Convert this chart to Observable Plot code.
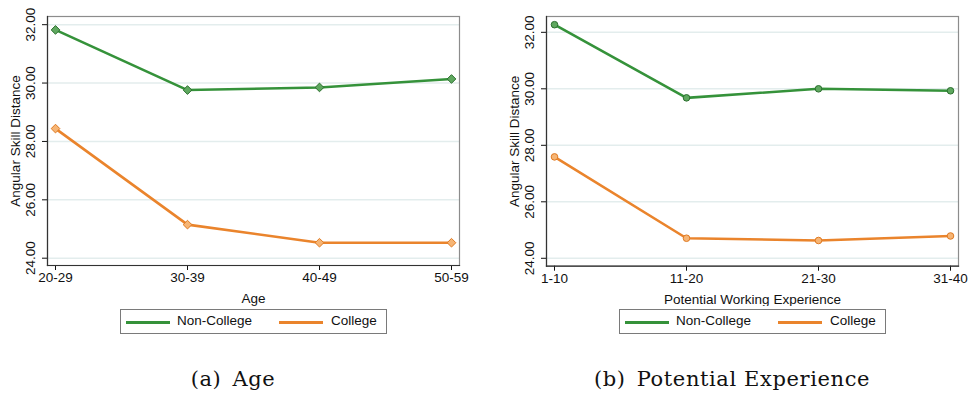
<!DOCTYPE html>
<html>
<head>
<meta charset="utf-8">
<script src="https://cdn.jsdelivr.net/npm/d3@7"></script>
<script src="https://cdn.jsdelivr.net/npm/@observablehq/plot@0.6"></script>
<style>
  html, body { margin: 0; padding: 0; background: #fff; }
  #root { position: relative; width: 968px; height: 398px; overflow: hidden; font-family: "Liberation Sans", Arial, sans-serif; }
  .panel { position: absolute; top: 0; width: 484px; height: 306px; }
  .legend { position: absolute; top: 309px; height: 23px; border: 1px solid #7a7a7a; box-sizing: content-box; font-size: 13.5px; color: #111; background: #fff; }
  .legend .sw { position: absolute; top: 11px; height: 3px; width: 44px; }
  .legend .lb { position: absolute; top: 3px; white-space: nowrap; }
  .caption { position: absolute; top: 367px; font-family: "DejaVu Serif", "Liberation Serif", serif; font-size: 21px; letter-spacing: 0.6px; color: #111; white-space: nowrap; transform: translateX(-50%); }
</style>
</head>
<body>
<div id="root"></div>
<script>
// Angular skill distance by age group and by potential working experience
const series = ["Non-College", "College"];
const seriesColors = ["#35923a", "#ea842c"];
const seriesFills = ["#5fa85f", "#f6b575"];
const seriesStrokes = ["#2b6f2e", "#e07a22"];

const ageCats = ["20-29", "30-39", "40-49", "50-59"];
const ageNonCollege = [31.82, 29.76, 29.85, 30.14];
const ageCollege = [28.44, 25.15, 24.53, 24.53];

const expCats = ["1-10", "11-20", "21-30", "31-40"];
const expNonCollege = [32.27, 29.68, 30.00, 29.93];
const expCollege = [27.59, 24.71, 24.63, 24.79];

const yTicks = [24, 26, 28, 30, 32];
const yTitle = "Angular Skill Distance";
const captions = ["(a)\u2002Age", "(b)\u2002Potential Experience"];

const root = document.getElementById("root");

function toRows(cats, nonCollege, college) {
  const rows = [];
  cats.forEach((c, i) => rows.push({cat: c, s: series[0], v: nonCollege[i]}));
  cats.forEach((c, i) => rows.push({cat: c, s: series[1], v: college[i]}));
  return rows;
}

function panel({cats, nonCollege, college, xTitle, symbol, r, yDomain, marginLeft, marginRight, marginBottom}) {
  const rows = toRows(cats, nonCollege, college);
  const marks = [
    Plot.gridY(yTicks, {stroke: "#e3eded", strokeOpacity: 1, strokeWidth: 1.5}),
    Plot.frame({stroke: "#8c8c8c", strokeWidth: 1.2}),
    Plot.axisY(yTicks, {
      tickSize: 5, tickPadding: 8, tickRotate: -90,
      tickFormat: d => d.toFixed(2),
      label: yTitle, labelAnchor: "center", labelArrow: "none", labelOffset: 37
    }),
    Plot.axisX({
      tickSize: 5, tickPadding: 2,
      label: xTitle, labelAnchor: "center", labelArrow: "none", labelOffset: 37.5
    }),
    Plot.frame({anchor: "left", stroke: "#333", strokeWidth: 1.2}),
    Plot.frame({anchor: "bottom", stroke: "#333", strokeWidth: 1.2})
  ];
  series.forEach((s, k) => {
    const d = rows.filter(row => row.s === s);
    marks.push(Plot.line(d, {x: "cat", y: "v", stroke: seriesColors[k], strokeWidth: 2.6}));
    marks.push(Plot.dot(d, {x: "cat", y: "v", symbol, r, fill: seriesFills[k], stroke: seriesStrokes[k], strokeWidth: 1}));
  });
  return Plot.plot({
    width: 484, height: 306,
    marginTop: 16, marginBottom, marginLeft, marginRight,
    style: "font-family: 'Liberation Sans', Arial, sans-serif; font-size: 13.5px; color: #111; background: transparent;",
    x: {type: "point", domain: cats, padding: 0.057, label: null},
    y: {domain: yDomain, label: null},
    marks
  });
}

function legend(left) {
  const box = document.createElement("div");
  box.className = "legend";
  box.style.left = left + "px";
  box.style.width = "265px";
  const offsets = [[5, 56], [158, 210]];
  series.forEach((s, k) => {
    const sw = document.createElement("div");
    sw.className = "sw";
    sw.style.left = offsets[k][0] + "px";
    sw.style.background = seriesColors[k];
    const lb = document.createElement("div");
    lb.className = "lb";
    lb.style.left = offsets[k][1] + "px";
    lb.textContent = s;
    box.append(sw, lb);
  });
  return box;
}

const p1 = document.createElement("div");
p1.className = "panel";
p1.style.left = "0px";
p1.append(panel({
  cats: ageCats, nonCollege: ageNonCollege, college: ageCollege, xTitle: "Age",
  symbol: "diamond2", r: 3.9, yDomain: [23.75, 32.28],
  marginLeft: 47, marginRight: 25, marginBottom: 41
}));

const p2 = document.createElement("div");
p2.className = "panel";
p2.style.left = "484px";
p2.append(panel({
  cats: expCats, nonCollege: expNonCollege, college: expCollege, xTitle: "Potential Working Experience",
  symbol: "circle", r: 3.3, yDomain: [23.72, 32.56],
  marginLeft: 62, marginRight: 10, marginBottom: 40.3
}));

root.append(p1, p2, legend(120), legend(619));

[[233, captions[0]], [732, captions[1]]].forEach(([cx, text]) => {
  const c = document.createElement("div");
  c.className = "caption";
  c.style.left = cx + "px";
  c.textContent = text;
  root.append(c);
});
</script>
</body>
</html>
